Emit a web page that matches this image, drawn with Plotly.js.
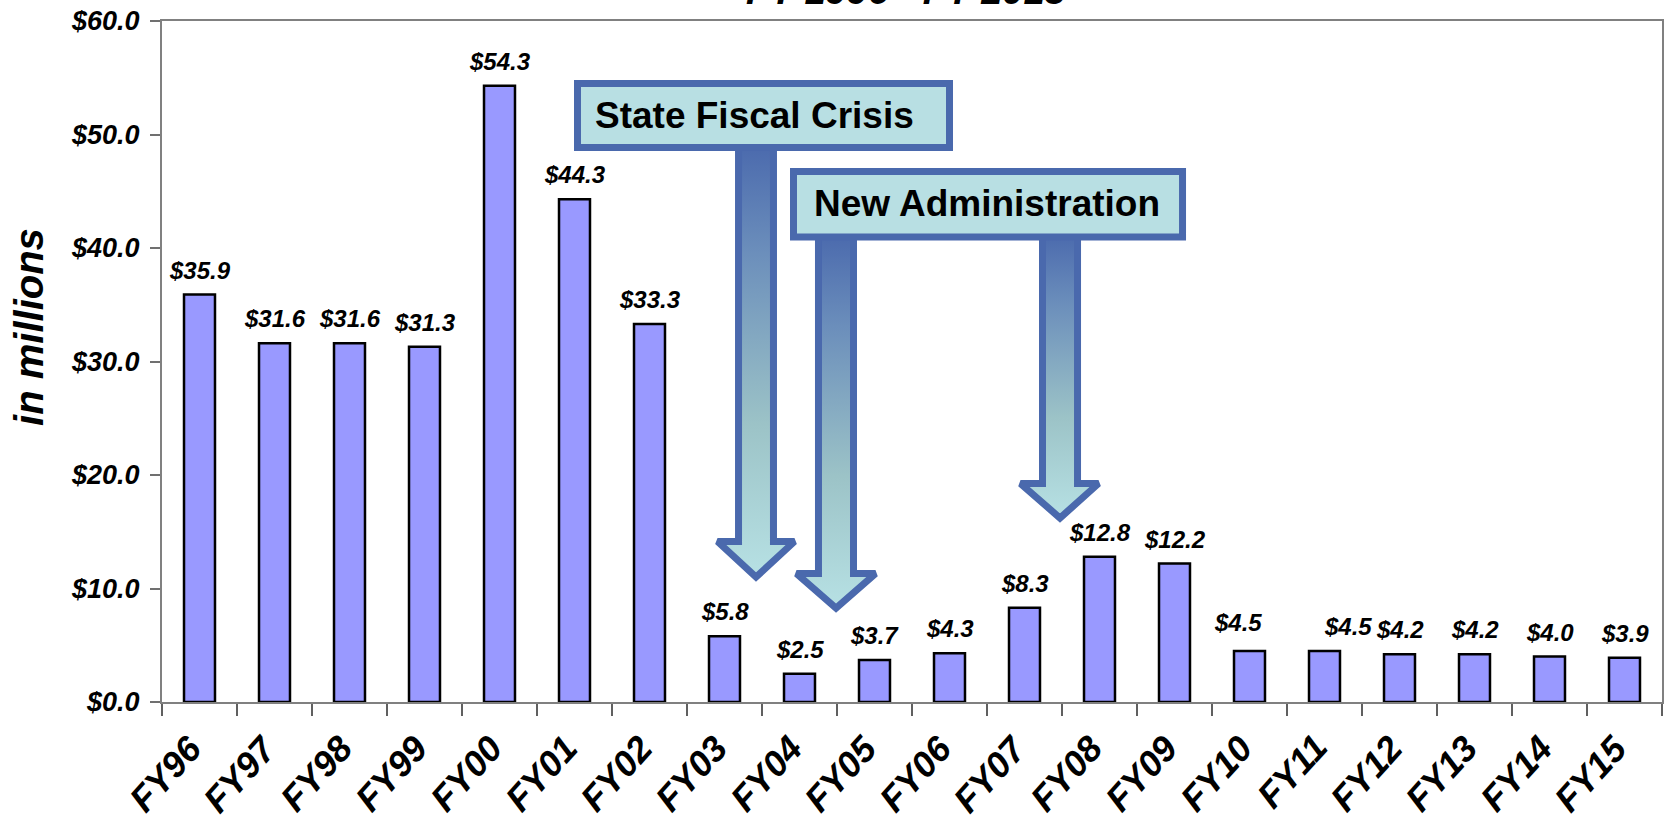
<!DOCTYPE html>
<html>
<head>
<meta charset="utf-8">
<script src="https://cdn.plot.ly/plotly-3.0.1.min.js"></script>
<style>
  html, body { margin: 0; padding: 0; background: #ffffff; }
  #chart { width: 1664px; height: 821px; }
</style>
</head>
<body>
<div id="chart"></div>
<script>
// ---- data ----
const categories = ['FY96','FY97','FY98','FY99','FY00','FY01','FY02','FY03','FY04','FY05',
                    'FY06','FY07','FY08','FY09','FY10','FY11','FY12','FY13','FY14','FY15'];
const values = [35.9, 31.6, 31.6, 31.3, 54.3, 44.3, 33.3, 5.8, 2.5, 3.7,
                4.3, 8.3, 12.8, 12.2, 4.5, 4.5, 4.2, 4.2, 4.0, 3.9];
const yTickValues = [0, 10, 20, 30, 40, 50, 60];
const yTickLabels = yTickValues.map(v => '$' + v.toFixed(1));
const titleText = 'FY 1996 - FY 2015';
const yTitleText = 'in millions';
const callout1Text = 'State Fiscal Crisis';
const callout2Text = 'New Administration';

// ---- styling / placement (not data) ----
const FONT = '"Liberation Sans", Arial, sans-serif';
const labelNudge = { FY10: {dx: -12, dy: 4}, FY11: {dx: 23, dy: 0} };
const BOX_FILL = '#b8dfe3';
const BLUE = '#4a69ad';
const boldItalic = (size) => ({family: FONT, size: size, color: '#000', weight: 'bold', style: 'italic'});

// callouts expressed in category-index / value units
const box1 = {x0: 5.04, x1: 10.0, y0: 48.85, y1: 54.49, tx: 7.40, ty: 51.7};
const box2 = {x0: 7.92, x1: 13.107, y0: 40.97, y1: 46.74, tx: 10.5, ty: 43.9};
const arrows = [
  {sl: 7.187, sr: 7.653, hl: 6.907, hr: 7.933, tip: 7.42,  top: 49.3, head: 14.14, end: 11.01},
  {sl: 8.253, sr: 8.72,  hl: 7.96,  hr: 9.013, tip: 8.487, top: 41.4, head: 11.32, end: 8.28},
  {sl: 11.24, sr: 11.707, hl: 10.947, hr: 11.987, tip: 11.473, top: 41.4, head: 19.25, end: 16.21}
];

function arrowTrace(a) {
  return {
    type: 'scatter', mode: 'lines', xaxis: 'x2', yaxis: 'y2',
    x: [a.sl, a.sl, a.hl, a.tip, a.hr, a.sr, a.sr, a.sl],
    y: [a.top, a.head, a.head, a.end, a.head, a.head, a.top, a.top],
    fill: 'toself',
    fillgradient: {type: 'vertical',
      colorscale: [[0, '#b7e1e4'], [0.35, '#9cc3c7'], [0.75, '#6b8ebb'], [1, '#4a69ad']]},
    line: {color: BLUE, width: 7},
    hoverinfo: 'skip', showlegend: false
  };
}

const barTrace = {
  type: 'bar', x: categories, y: values,
  marker: {color: '#9999ff', line: {color: '#000000', width: 2.5}},
  hoverinfo: 'skip', showlegend: false
};

const traces = [barTrace].concat(arrows.map(arrowTrace));

// value labels above bars
const labelAnnotations = categories.map((c, i) => {
  const n = labelNudge[c] || {dx: 0, dy: 0};
  return {
    x: c, y: values[i], xref: 'x', yref: 'y',
    text: '$' + values[i].toFixed(1),
    showarrow: false, yanchor: 'bottom', xanchor: 'center',
    yshift: 9 + n.dy, xshift: n.dx,
    font: boldItalic(24)
  };
});

// rotated category labels under the axis
const xTickAnnotations = categories.map(c => ({
  x: c, xref: 'x', y: 0, yref: 'paper',
  text: c, showarrow: false, textangle: -48, borderpad: 0,
  xanchor: 'right', yanchor: 'top', xshift: 12, yshift: -24,
  font: boldItalic(36)
}));

// value labels left of the axis
const yTickAnnotations = yTickValues.map((v, i) => ({
  x: 0, xref: 'paper', y: v, yref: 'y',
  text: yTickLabels[i], showarrow: false, borderpad: 0,
  xanchor: 'right', yanchor: 'middle', xshift: -21,
  font: boldItalic(27)
}));

const otherAnnotations = [
  {xref: 'paper', yref: 'paper', x: 0.496, y: 1.0103, yanchor: 'bottom', xanchor: 'center',
   showarrow: false, text: titleText, font: boldItalic(38)},
  {xref: 'paper', yref: 'paper', x: -0.0887, y: 0.5507, xanchor: 'center', yanchor: 'middle',
   textangle: -90, showarrow: false, text: yTitleText, font: boldItalic(40)},
  {xref: 'x2', yref: 'y2', x: box1.tx, y: box1.ty, showarrow: false, text: callout1Text,
   xanchor: 'center', yanchor: 'middle',
   font: {family: FONT, size: 37, color: '#000', weight: 'bold'}},
  {xref: 'x2', yref: 'y2', x: box2.tx, y: box2.ty, showarrow: false, text: callout2Text,
   xanchor: 'center', yanchor: 'middle',
   font: {family: FONT, size: 37, color: '#000', weight: 'bold'}}
];

const shapes = [box1, box2].map(b => ({
  type: 'rect', xref: 'x2', yref: 'y2', layer: 'above',
  x0: b.x0, x1: b.x1, y0: b.y0, y1: b.y1,
  fillcolor: BOX_FILL, line: {color: BLUE, width: 7}
}));

const layout = {
  width: 1664, height: 821,
  margin: {l: 162, r: 2, t: 21, b: 119, pad: 0},
  paper_bgcolor: '#ffffff', plot_bgcolor: '#ffffff',
  font: {family: FONT},
  showlegend: false,
  bargap: 0.587,
  xaxis: {
    type: 'category', range: [-0.5, 19.5],
    showline: true, linecolor: '#808080', linewidth: 2, mirror: true,
    ticks: 'outside', tickson: 'boundaries', ticklen: 12, tickwidth: 2, tickcolor: '#606060',
    showticklabels: false,
    showgrid: false, zeroline: false, fixedrange: true
  },
  yaxis: {
    range: [0, 60], tickmode: 'array', tickvals: yTickValues,
    showline: true, linecolor: '#808080', linewidth: 2, mirror: true,
    ticks: 'outside', ticklen: 10, tickwidth: 2, tickcolor: '#707070',
    showticklabels: false,
    showgrid: false, zeroline: false, fixedrange: true
  },
  xaxis2: {overlaying: 'x', anchor: 'y2', range: [-0.5, 19.5], visible: false, fixedrange: true},
  yaxis2: {overlaying: 'y', anchor: 'x2', range: [0, 60], visible: false, fixedrange: true},
  shapes: shapes,
  annotations: labelAnnotations.concat(xTickAnnotations, yTickAnnotations, otherAnnotations)
};

Plotly.newPlot('chart', traces, layout, {displayModeBar: false, staticPlot: true});
</script>
</body>
</html>
